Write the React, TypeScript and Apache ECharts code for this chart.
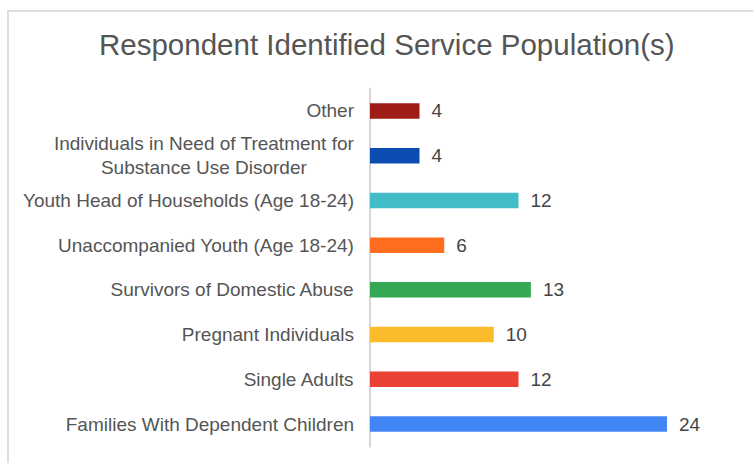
import React, { useEffect, useRef } from "react";
import * as echarts from "echarts";

const titleText = "Respondent Identified Service Population(s)";
// bottom-to-top order (ECharts category axis)
const categories = [
  "Families With Dependent Children",
  "Single Adults",
  "Pregnant Individuals",
  "Survivors of Domestic Abuse",
  "Unaccompanied Youth (Age 18-24)",
  "Youth Head of Households (Age 18-24)",
  "Individuals in Need of Treatment for\nSubstance Use Disorder",
  "Other",
];
const values = [24, 12, 10, 13, 6, 12, 4, 4];
const colors = [
  "#4285f4",
  "#ea4335",
  "#fbbc2c",
  "#34a853",
  "#ff6d1f",
  "#42bcc6",
  "#0b4cb0",
  "#9e1b16",
];

const FONT = "'Liberation Sans', Arial, Helvetica, sans-serif";

export default function App() {
  const ref = useRef<HTMLDivElement>(null);
  useEffect(() => {
    document.body.style.margin = "0";
    if (!ref.current) return;
    const chart = echarts.init(ref.current, null, { renderer: "svg" });
    chart.setOption({
      animation: false,
      backgroundColor: "#ffffff",
      title: {
        text: titleText,
        left: 94,
        top: 24,
        textStyle: {
          fontFamily: FONT,
          fontSize: 29.5,
          fontWeight: "normal",
          color: "#555555",
        },
      },
      graphic: [
        {
          type: "rect",
          shape: { x: 8, y: 11, width: 760, height: 470 },
          style: { fill: "none", stroke: "#dddddd", lineWidth: 2 },
          silent: true,
        },
      ],
      grid: { left: 370, top: 88.6, width: 297, height: 357.8, containLabel: false },
      xAxis: {
        type: "value",
        min: 0,
        max: 24,
        show: false,
      },
      yAxis: {
        type: "category",
        data: categories,
        axisLine: { show: true, lineStyle: { color: "#d6d6d6", width: 2 } },
        axisTick: { show: false },
        splitLine: { show: false },
        axisLabel: {
          margin: 16,
          fontFamily: FONT,
          fontSize: 19,
          color: "#555555",
          lineHeight: 24,
          formatter: (v: string) =>
            v
              .split("\n")
              .map((line) => `{c|${line}}`)
              .join("\n"),
          rich: {
            c: {
              align: "center",
              fontFamily: FONT,
              fontSize: 19,
              color: "#555555",
              lineHeight: 24,
            },
          },
        },
      },
      series: [
        {
          type: "bar",
          data: values.map((v, i) => ({ value: v, itemStyle: { color: colors[i] } })),
          barWidth: 15.5,
          label: {
            show: true,
            position: "right",
            distance: 12,
            fontFamily: FONT,
            fontSize: 19,
            color: "#444444",
          },
        },
      ],
    });
    return () => chart.dispose();
  }, []);
  return (
    <div
      ref={ref}
      style={{ position: "absolute", left: 0, top: 0, width: 753, height: 463 }}
    />
  );
}
